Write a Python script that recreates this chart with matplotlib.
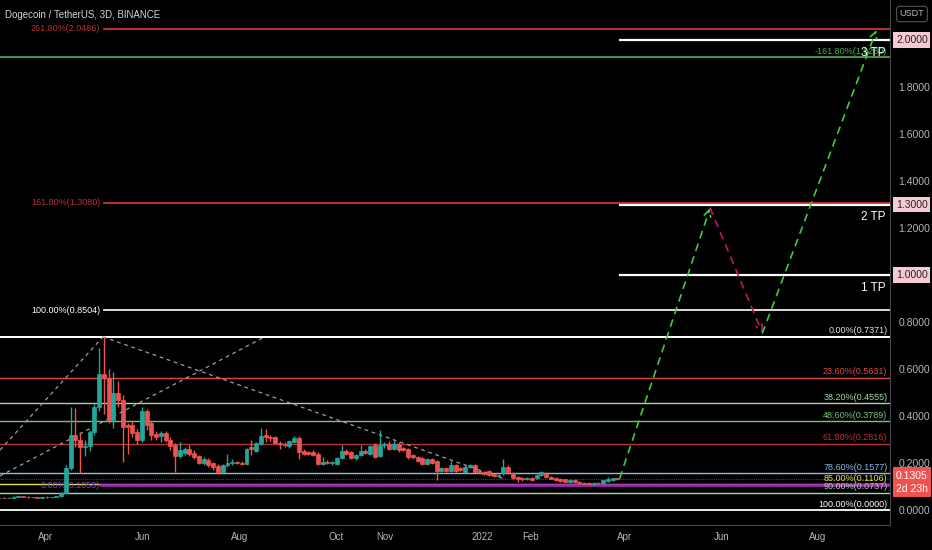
import numpy as np
import pandas as pd
import matplotlib
matplotlib.use("Agg")
import matplotlib.pyplot as plt
import matplotlib.dates as mdates
import matplotlib.transforms as mtransforms

plt.rcParams['font.family'] = ['Liberation Sans Narrow', 'Liberation Sans', 'DejaVu Sans']

# data (3D candles)
##################################################################################################
start_date = "2021-03-01"
opens = [0.050, 0.053, 0.051, 0.053, 0.057, 0.058, 0.056, 0.055, 0.054, 0.053,
         0.055, 0.054, 0.056, 0.059, 0.072, 0.180, 0.320, 0.300, 0.268, 0.272,
         0.332, 0.440, 0.580, 0.562, 0.383, 0.500, 0.470, 0.360, 0.362, 0.330,
         0.298, 0.420, 0.370, 0.323, 0.315, 0.328, 0.300, 0.277, 0.230, 0.243,
         0.260, 0.243, 0.230, 0.200, 0.213, 0.200, 0.187, 0.162, 0.190, 0.198,
         0.203, 0.201, 0.196, 0.270, 0.250, 0.280, 0.318, 0.310, 0.310, 0.285,
         0.282, 0.272, 0.290, 0.305, 0.250, 0.245, 0.245, 0.238, 0.196, 0.205,
         0.198, 0.196, 0.220, 0.250, 0.245, 0.220, 0.235, 0.250, 0.240, 0.277,
         0.230, 0.275, 0.280, 0.260, 0.283, 0.262, 0.260, 0.235, 0.225, 0.220,
         0.196, 0.215, 0.208, 0.166, 0.177, 0.166, 0.190, 0.178, 0.162, 0.183,
         0.190, 0.165, 0.163, 0.166, 0.152, 0.146, 0.157, 0.183, 0.157, 0.140,
         0.136, 0.130, 0.137, 0.137, 0.147, 0.155, 0.140, 0.135, 0.130, 0.130,
         0.120, 0.128, 0.120, 0.115, 0.115, 0.111, 0.116, 0.115, 0.124, 0.126,
         0.135]
highs = [0.056, 0.055, 0.054, 0.058, 0.060, 0.061, 0.059, 0.057, 0.056, 0.056,
         0.058, 0.057, 0.060, 0.075, 0.190, 0.440, 0.434, 0.330, 0.300, 0.340,
         0.450, 0.690, 0.7371, 0.600, 0.587, 0.550, 0.490, 0.370, 0.380, 0.345,
         0.440, 0.430, 0.380, 0.335, 0.335, 0.335, 0.310, 0.285, 0.290, 0.270,
         0.275, 0.255, 0.235, 0.225, 0.222, 0.205, 0.195, 0.195, 0.240, 0.215,
         0.210, 0.210, 0.265, 0.300, 0.290, 0.350, 0.345, 0.318, 0.315, 0.295,
         0.290, 0.300, 0.315, 0.315, 0.258, 0.252, 0.255, 0.245, 0.225, 0.212,
         0.210, 0.225, 0.275, 0.258, 0.250, 0.240, 0.275, 0.258, 0.275, 0.285,
         0.340, 0.290, 0.292, 0.300, 0.290, 0.270, 0.265, 0.240, 0.230, 0.225,
         0.222, 0.220, 0.212, 0.185, 0.182, 0.210, 0.195, 0.185, 0.190, 0.195,
         0.195, 0.170, 0.168, 0.170, 0.158, 0.155, 0.217, 0.190, 0.162, 0.145,
         0.140, 0.142, 0.140, 0.155, 0.168, 0.160, 0.145, 0.140, 0.135, 0.133,
         0.132, 0.132, 0.123, 0.120, 0.118, 0.120, 0.119, 0.128, 0.140, 0.138,
         0.137]
lows = [0.047, 0.050, 0.049, 0.052, 0.054, 0.055, 0.053, 0.052, 0.051, 0.051,
        0.053, 0.052, 0.054, 0.057, 0.068, 0.170, 0.268, 0.157, 0.230, 0.250,
        0.320, 0.420, 0.410, 0.370, 0.350, 0.440, 0.204, 0.240, 0.310, 0.280,
        0.290, 0.340, 0.300, 0.300, 0.290, 0.290, 0.255, 0.160, 0.220, 0.235,
        0.230, 0.215, 0.195, 0.190, 0.185, 0.170, 0.155, 0.158, 0.185, 0.190,
        0.195, 0.190, 0.192, 0.235, 0.245, 0.275, 0.290, 0.295, 0.280, 0.260,
        0.270, 0.265, 0.285, 0.215, 0.235, 0.232, 0.228, 0.190, 0.190, 0.195,
        0.192, 0.192, 0.215, 0.235, 0.215, 0.212, 0.230, 0.238, 0.232, 0.220,
        0.225, 0.265, 0.255, 0.255, 0.245, 0.250, 0.218, 0.218, 0.205, 0.190,
        0.190, 0.195, 0.128, 0.160, 0.162, 0.160, 0.160, 0.165, 0.158, 0.178,
        0.158, 0.155, 0.150, 0.145, 0.140, 0.140, 0.150, 0.155, 0.130, 0.120,
        0.125, 0.128, 0.125, 0.133, 0.143, 0.135, 0.130, 0.122, 0.120, 0.118,
        0.117, 0.115, 0.110, 0.110, 0.108, 0.108, 0.110, 0.112, 0.120, 0.123,
        0.128]
closes = [0.053, 0.051, 0.053, 0.057, 0.058, 0.056, 0.055, 0.054, 0.053, 0.055,
          0.054, 0.056, 0.059, 0.072, 0.180, 0.320, 0.300, 0.268, 0.272, 0.332,
          0.440, 0.580, 0.562, 0.383, 0.500, 0.470, 0.353, 0.355, 0.328, 0.298,
          0.420, 0.360, 0.320, 0.310, 0.328, 0.300, 0.272, 0.230, 0.255, 0.260,
          0.238, 0.226, 0.200, 0.217, 0.190, 0.183, 0.162, 0.190, 0.200, 0.203,
          0.200, 0.197, 0.260, 0.260, 0.285, 0.315, 0.310, 0.305, 0.285, 0.280,
          0.275, 0.293, 0.305, 0.247, 0.240, 0.240, 0.236, 0.196, 0.205, 0.198,
          0.204, 0.220, 0.250, 0.240, 0.220, 0.235, 0.250, 0.243, 0.272, 0.226,
          0.275, 0.280, 0.260, 0.283, 0.256, 0.255, 0.226, 0.225, 0.210, 0.196,
          0.215, 0.200, 0.166, 0.177, 0.168, 0.190, 0.165, 0.170, 0.183, 0.190,
          0.162, 0.160, 0.155, 0.149, 0.146, 0.150, 0.183, 0.160, 0.136, 0.132,
          0.132, 0.137, 0.128, 0.150, 0.160, 0.140, 0.133, 0.127, 0.124, 0.120,
          0.128, 0.120, 0.113, 0.112, 0.111, 0.116, 0.113, 0.126, 0.131, 0.135,
          0.1305]

# fib levels: (label, price, color)
fib_right = [("0.00%(0.7371)", 0.7371, "#e0e0e0"),
             ("23.60%(0.5631)", 0.5631, "#e04848"),
             ("38.20%(0.4555)", 0.4555, "#a5d6a7"),
             ("48.60%(0.3789)", 0.3789, "#7cbf7f"),
             ("61.80%(0.2816)", 0.2816, "#b8322f"),
             ("78.60%(0.1577)", 0.1577, "#8fb8e8"),
             ("85.00%(0.1106)", 0.1106, "#e8e05a"),
             ("90.00%(0.0737)", 0.0737, "#a5d6a7"),
             ("100.00%(0.0000)", 0.0, "#ffffff")]
fib_left = [("261.80%(2.0486)", 2.0486, "#b8322f", "#e53935"),
            ("161.80%(1.3080)", 1.3080, "#b8322f", "#e53935"),
            ("100.00%(0.8504)", 0.8504, "#ffffff", "#ffffff")]
fib_top_green = ("-161.80%(1.9280)", 1.9280)
purple_level = ("0.00%(0.1058)", 0.1058)

tp_levels = [2.0, 1.3, 1.0]
tp_labels = ["3 TP", "2 TP", "1 TP"]

path_dates = ["2022-03-29", "2022-05-25", "2022-06-27", "2022-09-07"]
path_prices = [0.136, 1.285, 0.753, 2.043]

trend_dates = [["2021-03-03", "2021-05-07"],
               ["2021-03-03", "2021-08-17"],
               ["2021-05-07", "2022-01-14"]]
trend_prices = [[0.255, 0.7371], [0.145, 0.7371], [0.7371, 0.135]]

tick_dates = ["2021-04-01", "2021-06-01", "2021-08-01", "2021-10-01", "2021-11-01",
              "2022-01-01", "2022-02-01", "2022-04-01", "2022-06-01", "2022-08-01"]
tick_labels = ["Apr", "Jun", "Aug", "Oct", "Nov", "2022", "Feb", "Apr", "Jun", "Aug"]
price_ticks = [0.0, 0.2, 0.4, 0.6, 0.8, 1.2, 1.4, 1.6, 1.8]
last_price = 0.1305

# figure
##################################################################################################
up_c = "#26a69a"
dn_c = "#ef5350"
axis_c = "#b2b5be"

fig = plt.figure(figsize=(9.32, 5.5), dpi=100, facecolor="black")
ax = fig.add_axes([0, 25 / 550, 890 / 932, 525 / 550])
ax.set_facecolor("black")

base = mdates.date2num(pd.Timestamp("2021-04-01"))
ax.set_xlim(base - 46 / 1.585, base + 844 / 1.585)
ax.set_ylim(-0.0638, 2.1702)

dates = mdates.date2num(pd.date_range(start_date, periods=len(closes), freq="3D")) + 1.5
o = np.array(opens)
h = np.array(highs)
l = np.array(lows)
c = np.array(closes)
cols = np.where(c >= o, up_c, dn_c)

yt = mtransforms.blended_transform_factory(ax.transAxes, ax.transData)

# horizontal levels
for label, price, col in fib_right:
    ax.axhline(price, color=col, lw=1.3 if col in ("#ffffff", "#e0e0e0") else 1.0, zorder=2)
    ax.text(0.997, price + 0.006, label, transform=yt,
            ha="right", va="bottom", color=col, fontsize=6.5, zorder=6)
ax.axhline(0.7371, color="#ffffff", lw=1.4, zorder=2)

for label, price, tcol, lcol in fib_left:
    ax.axhline(price, xmin=0.117, color=lcol, lw=1.2, zorder=2)
    ax.text(0.1125, price, label, transform=yt,
            ha="right", va="center", color=tcol, fontsize=6.5)

ax.axhline(fib_top_green[1], color="#4caf50", lw=1.2, zorder=2)
ax.text(0.997, fib_top_green[1] + 0.006, fib_top_green[0], transform=yt,
        ha="right", va="bottom", color="#4caf50", fontsize=6.5, zorder=6)

ax.axhline(purple_level[1], xmin=0.113, color="#9c27b0", lw=2.0, zorder=3)
ax.text(0.1125, purple_level[1], purple_level[0], transform=yt,
        ha="right", va="center", color="#7b4fc0", fontsize=6.5, zorder=4)

ax.axhline(last_price, color="#5a3a3a", lw=0.8, ls=(0, (1, 1)), zorder=2)

# TP lines
for lvl, lab in zip(tp_levels, tp_labels):
    ax.axhline(lvl, xmin=620 / 890, color="#ffffff", lw=1.6, zorder=3)
    ax.text(0.995, lvl - 0.028, lab, transform=yt,
            ha="right", va="top", color="#ffffff", fontsize=8.5, zorder=7)

# trend lines
for td, tpz in zip(trend_dates, trend_prices):
    ax.plot(mdates.date2num(pd.to_datetime(td)), tpz, color="#9e9e9e", lw=0.9, ls=(0, (3, 3)), zorder=2)

# candles
ax.vlines(dates, l, h, colors=cols, lw=1.0, zorder=4)
ax.bar(dates, c - o, bottom=o, width=2.5, color=cols, edgecolor=cols, lw=0.5, zorder=5)

# projected path
pdx = mdates.date2num(pd.to_datetime(path_dates))
path_cols = ["#3ccf3c", "#c2185b", "#3ccf3c"]
for i in range(3):
    ax.annotate("", xy=(pdx[i + 1], path_prices[i + 1]), xytext=(pdx[i], path_prices[i]),
                arrowprops=dict(arrowstyle="->", color=path_cols[i], lw=1.2, ls=(0, (4, 4)),
                                shrinkA=0, shrinkB=0, mutation_scale=12), zorder=6)

# axes styling
ax.spines["top"].set_visible(False)
ax.spines["left"].set_visible(False)
ax.spines["right"].set_color("#434651")
ax.spines["bottom"].set_color("#434651")
ax.yaxis.tick_right()
ax.set_yticks(price_ticks)
ax.set_yticklabels(["%.4f" % v for v in price_ticks])
ax.tick_params(axis="y", length=0, pad=6, labelsize=7.5, labelcolor=axis_c)
ax.set_xticks(mdates.date2num(pd.to_datetime(tick_dates)))
ax.set_xticklabels(tick_labels)
ax.tick_params(axis="x", length=0, pad=5, labelsize=7, labelcolor=axis_c)
for t in ax.get_xticklabels():
    t.set_family(["Liberation Sans", "DejaVu Sans"])

for lvl in tp_levels:
    ax.text(1.0 + 6 / 890, lvl, "%.4f" % lvl, transform=yt, ha="left", va="center", fontsize=7.5,
            color="#222222", clip_on=False, zorder=8,
            bbox=dict(boxstyle="square,pad=0.25", fc="#f6c9d3", ec="none"))
ax.text(1.0 + 6 / 890, last_price - 0.012, "%.4f\n2d 23h" % last_price, transform=yt, ha="left", va="center",
        fontsize=7.5, color="#ffffff", clip_on=False, zorder=8, linespacing=1.4,
        bbox=dict(boxstyle="square,pad=0.3", fc="#ef5350", ec="none"))

fig.text(5 / 932, 1 - 15 / 550, "Dogecoin / TetherUS, 3D, BINANCE", color="#d1d4dc", fontsize=7,
         family=["Liberation Sans", "DejaVu Sans"], va="center", ha="left")
fig.text(912 / 932, 1 - 14 / 550, "USDT", color=axis_c, fontsize=6.5, ha="center", va="center",
         bbox=dict(boxstyle="round,pad=0.35", fc="black", ec="#555555", lw=0.8))

fig.savefig("out.png", dpi=100, facecolor="black")
